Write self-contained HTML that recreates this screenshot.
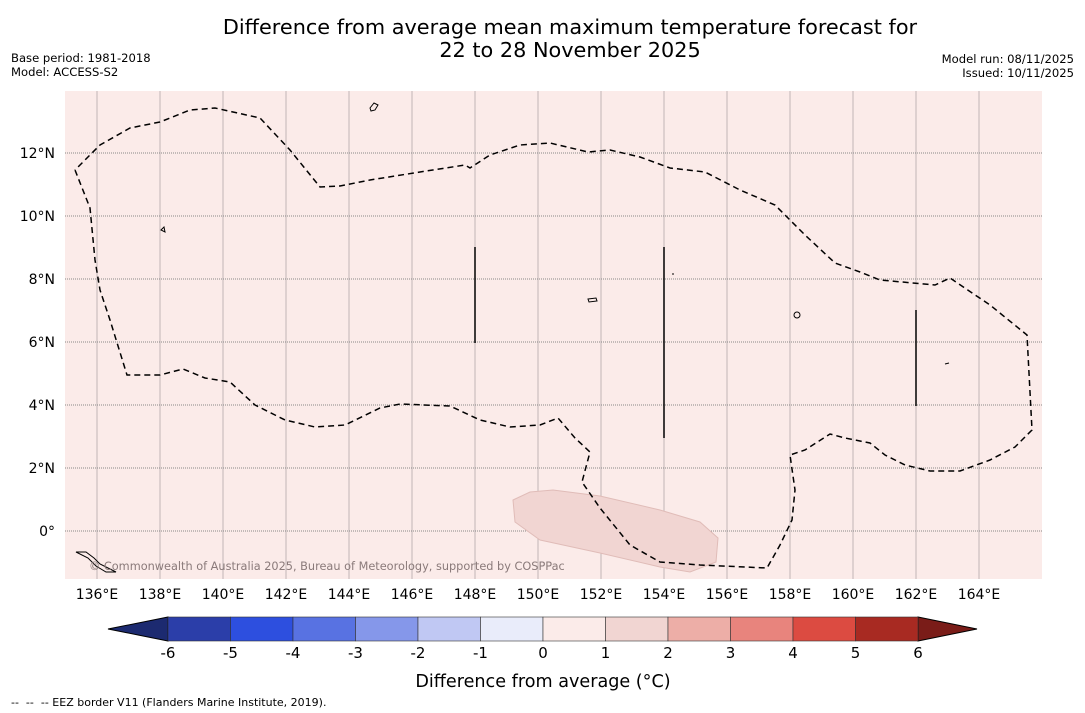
<!DOCTYPE html>
<html><head><meta charset="utf-8"><style>
html,body{margin:0;padding:0;background:#fff;}
svg{display:block;font-family:"DejaVu Sans","Liberation Sans",sans-serif;}
</style></head><body>
<svg id="chart" width="1085" height="713" viewBox="0 0 1085 713">
<text x="570" y="34" font-size="20.8" text-anchor="middle">Difference from average mean maximum temperature forecast for</text>
<text x="570" y="57" font-size="20.8" text-anchor="middle">22 to 28 November 2025</text>
<text x="11" y="62" font-size="11.6">Base period: 1981-2018</text>
<text x="11" y="76" font-size="11.6">Model: ACCESS-S2</text>
<text x="1074" y="63" font-size="11.6" text-anchor="end">Model run: 08/11/2025</text>
<text x="1074" y="77" font-size="11.6" text-anchor="end">Issued: 10/11/2025</text>
<rect x="65" y="91" width="977" height="488" fill="#fbebe9"/>
<g id="grid"></g>
<polygon points="513,500 530,492 553,490 600,496 660,510 700,522 718,538 716,562 690,572 660,567 600,553 540,540 515,522" fill="#f1d5d2" stroke="#e0bcb8" stroke-width="1"/>
<polyline fill="none" stroke="#000" stroke-width="1.5" stroke-dasharray="6,4" points="75,170 90,208 95,260 100,290 110,320 127,375 160,375 183,369 205,378 230,382 255,405 285,420 315,427 345,425 380,408 400,404 450,406 480,420 510,427 540,425 558,418 575,438 590,452 582,482 600,508 630,545 660,562 700,565 767,568 780,545 792,520 795,490 790,455 805,450 830,434 845,438 870,443 885,455 905,465 930,471 960,471 990,460 1015,447 1032,430 1027,335 990,305 950,278 935,285 880,280 860,272 835,263 805,235 775,205 740,190 705,172 670,168 640,157 610,150 588,152 550,143 520,145 490,155 470,168 465,165 420,172 370,180 340,186 320,187 290,150 260,118 215,108 190,110 160,122 130,128 100,145 75,170"/>
<g stroke="#000" stroke-width="1.5">
<line x1="475" y1="247" x2="475" y2="343"/><line x1="664" y1="247" x2="664" y2="438"/><line x1="916" y1="310" x2="916" y2="406"/>
</g>
<g fill="none" stroke="#000" stroke-width="1">
<path d="M370,108 l4,-5 l4,2 l-3,5 l-4,1z"/><path d="M161,230 l3,-3 l1,5z"/><path d="M588,299 l8,-1 l1,3 l-8,1z"/><circle cx="797" cy="315" r="3"/><path d="M76,552 l10,0 l8,6 l6,6 l10,5 l6,3 l-10,0 l-10,-6 l-8,-8z"/><path d="M945,364 l4,-1"/><path d="M672,274 l2,0"/>
</g>
<text x="89" y="570" font-size="11.3" fill="#8a7a7a">© Commonwealth of Australia 2025, Bureau of Meteorology, supported by COSPPac</text>
<g id="axes"></g>
<g id="cbar"></g>
<text x="543" y="687" font-size="17.6" text-anchor="middle">Difference from average (°C)</text>
<text x="11" y="706" font-size="11" xml:space="preserve">--  --  -- EEZ border V11 (Flanders Marine Institute, 2019).</text>
</svg>
<script>
const lonTicks=[136,138,140,142,144,146,148,150,152,154,156,158,160,162,164];
const latTicks=[0,2,4,6,8,10,12];
const cbarLevels=[-6,-5,-4,-3,-2,-1,0,1,2,3,4,5,6];
const cbarColors=["#2b3ea9","#2d4fdf","#5872e2","#8597ea","#c0c8f3","#e9ecfa","#fbebe9","#f1d5d2","#edaea7","#e8847d","#dc4b41","#a82a22"];
const extColors=["#1c2a70","#7a1c18"];
const NS="http://www.w3.org/2000/svg";
const X=lon=>97+(lon-136)*31.5;
const Y=lat=>531-lat*31.5;
function mk(tag,attrs,parent){const e=document.createElementNS(NS,tag);for(const k in attrs)e.setAttribute(k,attrs[k]);parent.appendChild(e);return e;}
const grid=document.getElementById('grid'),axes=document.getElementById('axes'),cb=document.getElementById('cbar');
lonTicks.forEach(l=>{
 const ln=mk('line',{x1:X(l),x2:X(l),y1:91,y2:579,stroke:'#a8a0a0','stroke-width':0.7},grid);
 
 
 const t=mk('text',{x:X(l),y:599,'font-size':14,'text-anchor':'middle'},axes);t.textContent=l+'°E';
 
 
});
latTicks.forEach(l=>{
 const ln=mk('line',{x1:65,x2:1042,y1:Y(l),y2:Y(l),stroke:'#888','stroke-width':1,'stroke-dasharray':'1,1'},grid);
 
 
 const t=mk('text',{x:55,y:Y(l)+5,'font-size':14,'text-anchor':'end'},axes);t.textContent=l===0?'0°':l+'°N';
 
 
});
const c0=168,c1=918,cy=617,ch=24,n=cbarColors.length;
const CX=v=>c0+(v-cbarLevels[0])/(cbarLevels[n]-cbarLevels[0])*(c1-c0);
const tl=mk('polygon',{points:`${c0},${cy} ${c0},${cy+ch} 108,${cy+ch/2}`,fill:extColors[0],stroke:'#000','stroke-width':1},cb);


const tr=mk('polygon',{points:`${c1},${cy} ${c1},${cy+ch} 977,${cy+ch/2}`,fill:extColors[1],stroke:'#000','stroke-width':1},cb);


cbarColors.forEach((c,i)=>{
 const r=mk('rect',{x:CX(cbarLevels[i]),y:cy,width:CX(cbarLevels[i+1])-CX(cbarLevels[i]),height:ch,fill:c,stroke:'#333','stroke-width':0.6},cb);
 
 
});
cbarLevels.forEach(v=>{
 const t=mk('text',{x:CX(v),y:658,'font-size':15,'text-anchor':'middle'},cb);t.textContent=v;
 
 
});
</script>
</body></html>
